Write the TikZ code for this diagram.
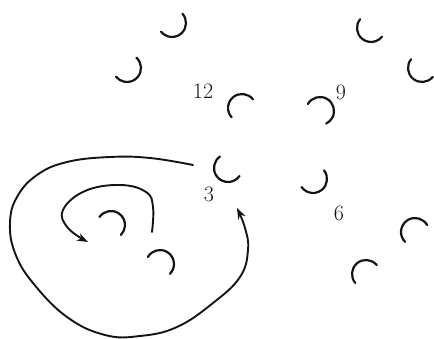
\documentclass[tikz,border=0pt]{standalone}
\usepackage{tikz}
\usetikzlibrary{arrows.meta}
\definecolor{InkBlack}{RGB}{20,20,20}
\tikzset{
    moon/.style={line width=2.2pt,InkBlack,line cap=round},
    spiral/.style={line width=1.9pt,InkBlack,line cap=round,-{Stealth[length=11pt,width=8pt]}},
    digit/.style={inner sep=0pt,InkBlack,font=\fontsize{22}{25}\selectfont}
}
\begin{document}
\begin{tikzpicture}[x=1pt,y=1pt]
		\useasboundingbox (0,0) rectangle (434,-339);
		% upper arcs
		\draw[moon] (172,-23) ++(42:14) arc[start angle=42,end angle=-142,radius=14];
		\draw[moon] (127,-68) ++(48:14) arc[start angle=48,end angle=-142,radius=14];
		\draw[moon] (371,-28) ++(141:14) arc[start angle=141,end angle=322,radius=14];
		\draw[moon] (422,-68) ++(141:14) arc[start angle=141,end angle=320,radius=14];
		\draw[moon] (242,-108) ++(38:14) arc[start angle=38,end angle=222,radius=14];
		\draw[moon] (320,-111) ++(150:14) arc[start angle=150,end angle=-64,radius=14];
		\node[digit] (twelve) at (203,-91) {12};
		\node[digit] (nine) at (341,-92) {9};
		% lower arcs
		\draw[moon] (228,-168) ++(125:14) arc[start angle=125,end angle=325,radius=14];
		\draw[moon] (313,-179) ++(38:14) arc[start angle=38,end angle=-145,radius=14];
		\draw[moon] (415,-232) ++(30:14) arc[start angle=30,end angle=225,radius=14];
		\draw[moon] (366,-274) ++(40:14) arc[start angle=40,end angle=220,radius=14];
		\draw[moon] (111,-225) ++(145:14) arc[start angle=145,end angle=-45,radius=14];
		\draw[moon] (160,-264) ++(150:14) arc[start angle=150,end angle=-45,radius=14];
		\node[digit] (three) at (209,-194) {3};
		\node[digit] (six) at (339,-213) {6};
		% inner loop
		\draw[spiral] plot[smooth,tension=0.7] coordinates {(152,-232) (153,-207) (146,-192) (120,-185) (85,-191) (63,-210) (68,-228) (88,-242)};
		% outer loop
		\draw[spiral] plot[smooth,tension=0.7] coordinates {(193,-165) (150,-158) (110,-157) (67,-162) (37,-175) (17,-197) (10,-223) (15,-253) (33,-283) (67,-317) (105,-335) (140,-336) (177,-327) (213,-303) (240,-277) (248,-250) (245,-228) (237,-208)};
\end{tikzpicture}
\end{document}
